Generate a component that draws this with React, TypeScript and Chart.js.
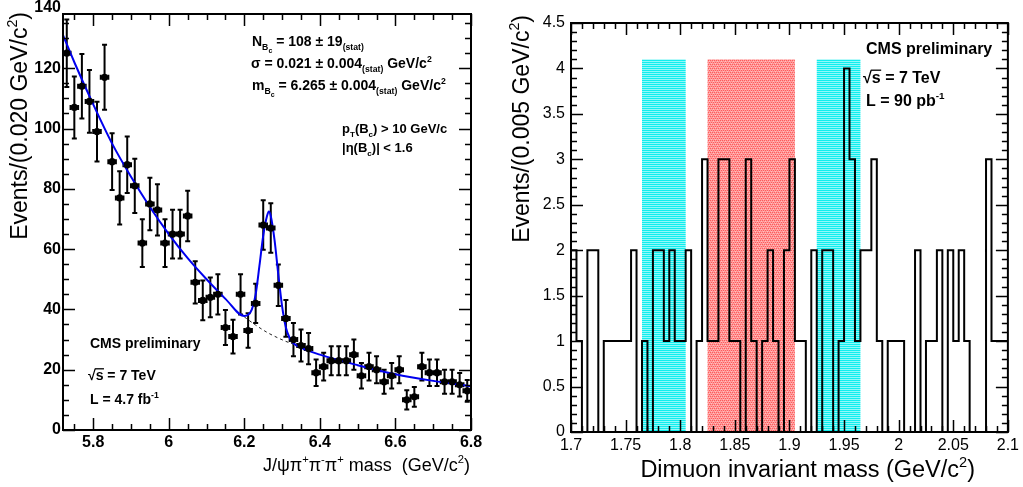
import React, { useEffect, useRef } from 'react';
import { Chart, registerables } from 'chart.js';

Chart.register(...registerables);

const FONT = '"Liberation Sans", Arial, Helvetica, sans-serif';

// ---------------- Left panel: J/psi pi+ pi- pi+ mass ----------------
const massBinCenters = [
  5.73, 5.75, 5.77, 5.79, 5.81, 5.83, 5.85, 5.87, 5.89, 5.91,
  5.93, 5.95, 5.97, 5.99, 6.01, 6.03, 6.05, 6.07, 6.09, 6.11,
  6.13, 6.15, 6.17, 6.19, 6.21, 6.23, 6.25, 6.27, 6.29, 6.31,
  6.33, 6.35, 6.37, 6.39, 6.41, 6.43, 6.45, 6.47, 6.49, 6.51,
  6.53, 6.55, 6.57, 6.59, 6.61, 6.63, 6.65, 6.67, 6.69, 6.71,
  6.73, 6.75, 6.77, 6.79,
];
const candidateCounts = [
  125, 107, 114, 109, 99, 117, 89, 77, 88, 81,
  62, 75, 73, 62, 65, 65, 71, 49, 43, 44,
  45, 34, 31, 45, 33, 42, 68, 67, 48, 37,
  30, 28, 27, 19, 21, 23, 23, 23, 25, 18,
  21, 20, 16, 18, 20, 10, 11, 21, 19, 19,
  16, 16, 15, 13,
];
const countErrors = [
  11.2, 10.3, 10.7, 10.4, 9.9, 10.8, 9.4, 8.8, 9.4, 9.0,
  7.9, 8.7, 8.5, 7.9, 8.1, 8.1, 8.4, 7.0, 6.6, 6.6,
  6.7, 5.8, 5.6, 6.7, 5.7, 6.5, 8.2, 8.2, 6.9, 6.1,
  5.5, 5.3, 5.2, 4.4, 4.6, 4.8, 4.8, 4.8, 5.0, 4.2,
  4.6, 4.5, 4.0, 4.2, 4.5, 3.2, 3.3, 4.6, 4.4, 4.4,
  4.0, 4.0, 3.9, 3.6,
];
const massBinHalfWidth = 0.01;

// total fit (background + signal)
const fitMass = [
  5.72, 5.75, 5.8, 5.85, 5.9, 5.95, 6.0, 6.05, 6.1, 6.15,
  6.2, 6.21, 6.22, 6.23, 6.24, 6.25, 6.26, 6.265, 6.27, 6.28,
  6.29, 6.3, 6.31, 6.32, 6.33, 6.35, 6.4, 6.5, 6.6, 6.7, 6.8,
];
const fitEvents = [
  131, 122, 108, 95, 84, 74, 65, 57, 50, 43.5,
  37.8, 38.2, 40, 45, 54.5, 64.5, 71, 72.5, 71, 63,
  51.5, 41, 34, 30.5, 28.8, 27.3, 25, 21.5, 18.5, 16.3, 14.5,
];
// background only under the peak (dashed)
const bkgMass = [6.2, 6.23, 6.26, 6.29, 6.32, 6.34];
const bkgEvents = [37.5, 34.8, 32.4, 30.5, 28.9, 28.1];

const massTicks = [5.8, 6, 6.2, 6.4, 6.6, 6.8];
const eventTicks = [0, 20, 40, 60, 80, 100, 120, 140];

// ---------------- Right panel: dimuon invariant mass ----------------
const dimuonBinEdges = [
  1.700, 1.705, 1.710, 1.715, 1.720, 1.725, 1.730, 1.735, 1.740, 1.745,
  1.750, 1.755, 1.760, 1.765, 1.770, 1.775, 1.780, 1.785, 1.790, 1.795,
  1.800, 1.805, 1.810, 1.815, 1.820, 1.825, 1.830, 1.835, 1.840, 1.845,
  1.850, 1.855, 1.860, 1.865, 1.870, 1.875, 1.880, 1.885, 1.890, 1.895,
  1.900, 1.905, 1.910, 1.915, 1.920, 1.925, 1.930, 1.935, 1.940, 1.945,
  1.950, 1.955, 1.960, 1.965, 1.970, 1.975, 1.980, 1.985, 1.990, 1.995,
  2.000, 2.005, 2.010, 2.015, 2.020, 2.025, 2.030, 2.035, 2.040, 2.045,
  2.050, 2.055, 2.060, 2.065, 2.070, 2.075, 2.080, 2.085, 2.090, 2.095,
];
const dimuonUpperEdge = 2.1;
const dimuonCounts = [
  0, 2, 1, 0, 2, 2, 0, 1, 1, 1,
  1, 1, 2, 0, 1, 0, 2, 2, 1, 2,
  1, 1, 2, 0, 1, 3, 1, 1, 3, 3,
  1, 1, 0, 3, 1, 0, 1, 2, 1, 0,
  2, 3, 1, 1, 0, 2, 0, 2, 2, 0,
  1, 4, 3, 1, 2, 2, 3, 1, 0, 1,
  1, 1, 0, 0, 2, 0, 1, 1, 2, 0,
  2, 1, 2, 1, 0, 0, 0, 3, 1, 1,
];
const bandStarts = [1.765, 1.825, 1.925];
const bandEnds = [1.805, 1.905, 1.965];
const bandKinds = ['sideband', 'signal', 'sideband'];
const bandHeight = 4.1;

const dimuonTicks = [1.7, 1.75, 1.8, 1.85, 1.9, 1.95, 2.0, 2.05, 2.1];
const dimuonEventTicks = [0, 0.5, 1, 1.5, 2, 2.5, 3, 3.5, 4, 4.5];

// ---------------- text helpers ----------------
type Kind = 'n' | 's' | 'ss' | 'p';
type Seg = [string, Kind];

function segFont(kind: Kind, size: number, weight: string) {
  const f = kind === 'n' ? 1 : kind === 'ss' ? 0.5 : 0.62;
  return `${weight} ${(size * f).toFixed(1)}px ${FONT}`;
}
function segDy(kind: Kind, size: number) {
  if (kind === 's') return 0.3 * size;
  if (kind === 'ss') return 0.5 * size;
  if (kind === 'p') return -0.42 * size;
  return 0;
}
function richWidth(ctx: CanvasRenderingContext2D, segs: Seg[], size: number, weight: string) {
  let w = 0;
  for (const [t, k] of segs) {
    ctx.font = segFont(k, size, weight);
    w += ctx.measureText(t).width;
  }
  return w;
}
function drawRich(ctx: CanvasRenderingContext2D, x: number, y: number, segs: Seg[], size: number, weight: string, align: 'left' | 'right' = 'left') {
  let cx = align === 'right' ? x - richWidth(ctx, segs, size, weight) : x;
  ctx.textBaseline = 'alphabetic';
  ctx.textAlign = 'left';
  ctx.fillStyle = '#000';
  for (const [t, k] of segs) {
    ctx.font = segFont(k, size, weight);
    ctx.fillText(t, cx, y + segDy(k, size));
    cx += ctx.measureText(t).width;
  }
}
function drawSqrtS(ctx: CanvasRenderingContext2D, x: number, y: number, size: number, rest: string) {
  ctx.font = `bold ${size}px ${FONT}`;
  ctx.textBaseline = 'alphabetic';
  ctx.textAlign = 'left';
  ctx.fillStyle = '#000';
  const w0 = ctx.measureText('√').width;
  const ws = ctx.measureText('s').width;
  ctx.fillText('√', x, y);
  ctx.fillText('s' + rest, x + w0, y);
  ctx.strokeStyle = '#000';
  ctx.lineWidth = 1.3;
  ctx.beginPath();
  ctx.moveTo(x + w0 - 1, y - size * 0.8);
  ctx.lineTo(x + w0 + ws + 0.5, y - size * 0.8);
  ctx.stroke();
}
function drawVerticalTitle(ctx: CanvasRenderingContext2D, baselineX: number, topY: number, segs: Seg[], size: number) {
  ctx.save();
  ctx.translate(baselineX, topY);
  ctx.rotate(-Math.PI / 2);
  drawRich(ctx, 0, 0, segs, size, 'normal', 'right');
  ctx.restore();
}
const fmt = (v: number) => String(Math.round(v * 100) / 100);

// ---------------- plugins ----------------
type TickSpec = { value: number; major: boolean };
function framePlugin(xt: TickSpec[], yt: TickSpec[], majorLen: number, minorLen: number) {
  return {
    id: 'rootFrame',
    afterDraw(chart: any) {
      const { ctx, chartArea: a, scales } = chart;
      const x = scales.x;
      const y = scales.y;
      ctx.save();
      ctx.strokeStyle = '#000';
      ctx.lineWidth = 1.5;
      ctx.beginPath();
      for (const t of xt) {
        const px = Math.round(x.getPixelForValue(t.value)) + 0.5;
        const len = t.major ? majorLen : minorLen;
        ctx.moveTo(px, a.bottom); ctx.lineTo(px, a.bottom - len);
        ctx.moveTo(px, a.top); ctx.lineTo(px, a.top + len);
      }
      for (const t of yt) {
        const py = Math.round(y.getPixelForValue(t.value)) + 0.5;
        const len = t.major ? majorLen : minorLen;
        ctx.moveTo(a.left, py); ctx.lineTo(a.left + len, py);
        ctx.moveTo(a.right, py); ctx.lineTo(a.right - len, py);
      }
      ctx.stroke();
      ctx.lineWidth = 2;
      ctx.strokeRect(a.left, a.top, a.right - a.left, a.bottom - a.top);
      ctx.restore();
    },
  };
}

const errorBarPlugin = {
  id: 'errorBars',
  beforeDatasetsDraw(chart: any) {
    const { ctx, scales } = chart;
    const x = scales.x;
    const y = scales.y;
    ctx.save();
    ctx.strokeStyle = '#000';
    ctx.lineWidth = 2;
    ctx.beginPath();
    massBinCenters.forEach((m, i) => {
      const px = x.getPixelForValue(m);
      const py = y.getPixelForValue(candidateCounts[i]);
      const top = y.getPixelForValue(candidateCounts[i] + countErrors[i]);
      const bot = y.getPixelForValue(candidateCounts[i] - countErrors[i]);
      const xl = x.getPixelForValue(m - massBinHalfWidth);
      const xr = x.getPixelForValue(m + massBinHalfWidth);
      ctx.moveTo(px, top); ctx.lineTo(px, bot);
      ctx.moveTo(px - 2.5, top); ctx.lineTo(px + 2.5, top);
      ctx.moveTo(px - 2.5, bot); ctx.lineTo(px + 2.5, bot);
      ctx.moveTo(xl, py); ctx.lineTo(xr, py);
      ctx.moveTo(xl, py - 2.5); ctx.lineTo(xl, py + 2.5);
      ctx.moveTo(xr, py - 2.5); ctx.lineTo(xr, py + 2.5);
    });
    ctx.stroke();
    ctx.restore();
  },
};

function makePattern(ctx: CanvasRenderingContext2D, kind: string) {
  const c = document.createElement('canvas');
  c.width = 4; c.height = 4;
  const g = c.getContext('2d')!;
  if (kind === 'signal') {
    g.fillStyle = '#ff9c9c'; g.fillRect(0, 0, 4, 4);
    g.fillStyle = '#ff5a5a';
    g.fillRect(0, 0, 1, 1); g.fillRect(2, 0, 1, 1); g.fillRect(1, 2, 1, 1); g.fillRect(3, 2, 1, 1);
    g.fillStyle = '#ffc0c0';
    g.fillRect(1, 1, 1, 1); g.fillRect(3, 3, 1, 1);
  } else {
    g.fillStyle = '#10eeee'; g.fillRect(0, 0, 4, 4);
    g.fillStyle = '#90f8f8'; g.fillRect(0, 1, 4, 1); g.fillRect(0, 3, 4, 1);
  }
  return ctx.createPattern(c, 'repeat');
}

const bandPlugin = {
  id: 'massBands',
  beforeDatasetsDraw(chart: any) {
    const { ctx, scales } = chart;
    const x = scales.x;
    const y = scales.y;
    ctx.save();
    bandStarts.forEach((lo, i) => {
      const x0 = x.getPixelForValue(lo);
      const x1 = x.getPixelForValue(bandEnds[i]);
      const y0 = y.getPixelForValue(bandHeight);
      const y1 = y.getPixelForValue(0);
      ctx.fillStyle = makePattern(ctx, bandKinds[i]) as any;
      ctx.fillRect(x0, y0, x1 - x0, y1 - y0);
    });
    ctx.restore();
  },
};

const leftTextPlugin = {
  id: 'leftText',
  afterDraw(chart: any) {
    const ctx: CanvasRenderingContext2D = chart.ctx;
    ctx.save();
    drawRich(ctx, 252, 46, [['N', 'n'], ['B', 's'], ['c', 'ss'], [' = 108 ± 19', 'n'], ['(stat)', 's']], 14, 'bold');
    drawRich(ctx, 251, 68, [['σ = 0.021 ± 0.004', 'n'], ['(stat)', 's'], [' GeV/c', 'n'], ['2', 'p']], 14, 'bold');
    drawRich(ctx, 252, 90, [['m', 'n'], ['B', 's'], ['c', 'ss'], [' = 6.265 ± 0.004', 'n'], ['(stat)', 's'], [' GeV/c', 'n'], ['2', 'p']], 14, 'bold');
    drawRich(ctx, 342, 133, [['p', 'n'], ['T', 's'], ['(B', 'n'], ['c', 's'], [') > 10 GeV/c', 'n']], 13, 'bold');
    drawRich(ctx, 342, 152, [['|η(B', 'n'], ['c', 's'], [')| < 1.6', 'n']], 13, 'bold');
    drawRich(ctx, 90, 348, [['CMS preliminary', 'n']], 14, 'bold');
    drawSqrtS(ctx, 88, 380, 14, ' = 7 TeV');
    drawRich(ctx, 90, 404, [['L = 4.7 fb', 'n'], ['-1', 'p']], 14, 'bold');
    // axis titles
    drawVerticalTitle(ctx, 27, 12, [['Events/(0.020 GeV/c', 'n'], ['2', 'p'], [')', 'n']], 23);
    drawRich(ctx, 470, 471, [['J/ψπ', 'n'], ['+', 'p'], ['π', 'n'], ['-', 'p'], ['π', 'n'], ['+', 'p'], [' mass  (GeV/c', 'n'], ['2', 'p'], [')', 'n']], 18, 'normal', 'right');
    ctx.restore();
  },
};

const rightTextPlugin = {
  id: 'rightText',
  afterDraw(chart: any) {
    const ctx: CanvasRenderingContext2D = chart.ctx;
    ctx.save();
    drawRich(ctx, 366, 54, [['CMS preliminary', 'n']], 16, 'bold');
    drawSqrtS(ctx, 363, 83, 16, ' = 7 TeV');
    drawRich(ctx, 366, 106, [['L = 90 pb', 'n'], ['-1', 'p']], 16, 'bold');
    drawVerticalTitle(ctx, 29, 15, [['Events/(0.005 GeV/c', 'n'], ['2', 'p'], [')', 'n']], 23);
    drawRich(ctx, 475, 477, [['Dimuon invariant mass (GeV/c', 'n'], ['2', 'p'], [')', 'n']], 23.5, 'normal', 'right');
    ctx.restore();
  },
};

// tick mark specs (axis decoration only)
const leftXTicks: TickSpec[] = [];
for (let i = 115; i <= 136; i++) leftXTicks.push({ value: i * 0.05, major: i % 4 === 0 });
const leftYTicks: TickSpec[] = [];
for (let i = 0; i <= 27; i++) leftYTicks.push({ value: i * 5, major: i % 4 === 0 });
const rightXTicks: TickSpec[] = [];
for (let i = 170; i <= 210; i++) rightXTicks.push({ value: i / 100, major: i % 5 === 0 });
const rightYTicks: TickSpec[] = [];
for (let i = 0; i <= 45; i++) rightYTicks.push({ value: i / 10, major: i % 5 === 0 });

function leftConfig(): any {
  return {
    type: 'scatter',
    data: {
      datasets: [
        {
          type: 'scatter',
          data: massBinCenters.map((m, i) => ({ x: m, y: candidateCounts[i] })),
          pointRadius: 3.6,
          pointHoverRadius: 3.6,
          pointBackgroundColor: '#000',
          pointBorderWidth: 0,
        },
        {
          type: 'line',
          data: fitMass.map((m, i) => ({ x: m, y: fitEvents[i] })),
          borderColor: '#0000ee',
          borderWidth: 2,
          pointRadius: 0,
          cubicInterpolationMode: 'monotone',
          fill: false,
        },
        {
          type: 'line',
          data: bkgMass.map((m, i) => ({ x: m, y: bkgEvents[i] })),
          borderColor: '#222',
          borderWidth: 1,
          borderDash: [3, 3],
          pointRadius: 0,
          cubicInterpolationMode: 'monotone',
          fill: false,
        },
      ],
    },
    options: {
      responsive: false,
      animation: false,
      events: [],
      layout: { padding: { left: 0, right: 29, top: 14, bottom: 0 } },
      plugins: { legend: { display: false }, tooltip: { enabled: false } },
      scales: {
        x: {
          type: 'linear', min: 5.72, max: 6.8,
          grid: { display: false, drawTicks: false }, border: { display: false },
          afterBuildTicks: (s: any) => { s.ticks = massTicks.map((v) => ({ value: v })); },
          afterFit: (s: any) => { s.height = 57; },
          ticks: { color: '#000', autoSkip: false, maxRotation: 0, padding: 3, font: { family: FONT, size: 16, weight: 'bold' }, callback: (v: number) => fmt(v) },
        },
        y: {
          type: 'linear', min: 0, max: 138,
          grid: { display: false, drawTicks: false }, border: { display: false },
          afterBuildTicks: (s: any) => { s.ticks = eventTicks.map((v) => ({ value: v })); },
          afterFit: (s: any) => { s.width = 63; },
          ticks: { color: '#000', autoSkip: false, padding: 2, font: { family: FONT, size: 16, weight: 'bold' }, callback: (v: number) => fmt(v) },
        },
      },
    },
    plugins: [errorBarPlugin, framePlugin(leftXTicks, leftYTicks, 12, 6), leftTextPlugin],
  };
}

function rightConfig(): any {
  const pts = dimuonBinEdges.map((e, i) => ({ x: e, y: dimuonCounts[i] }));
  pts.push({ x: dimuonUpperEdge, y: dimuonCounts[dimuonCounts.length - 1] });
  return {
    type: 'line',
    data: {
      datasets: [
        {
          data: pts,
          borderColor: '#000',
          borderWidth: 2,
          pointRadius: 0,
          stepped: 'after',
          fill: false,
        },
      ],
    },
    options: {
      responsive: false,
      animation: false,
      events: [],
      layout: { padding: { left: 0, right: 15, top: 23, bottom: 0 } },
      plugins: { legend: { display: false }, tooltip: { enabled: false } },
      scales: {
        x: {
          type: 'linear', min: 1.7, max: 2.1,
          grid: { display: false, drawTicks: false }, border: { display: false },
          afterBuildTicks: (s: any) => { s.ticks = dimuonTicks.map((v) => ({ value: v })); },
          afterFit: (s: any) => { s.height = 55; },
          ticks: { color: '#000', autoSkip: false, maxRotation: 0, padding: 4, font: { family: FONT, size: 16 }, callback: (v: number) => fmt(v) },
        },
        y: {
          type: 'linear', min: 0, max: 4.5,
          grid: { display: false, drawTicks: false }, border: { display: false },
          afterBuildTicks: (s: any) => { s.ticks = dimuonEventTicks.map((v) => ({ value: v })); },
          afterFit: (s: any) => { s.width = 71; },
          ticks: { color: '#000', autoSkip: false, padding: 6, font: { family: FONT, size: 16 }, callback: (v: number) => fmt(v) },
        },
      },
    },
    plugins: [bandPlugin, framePlugin(rightXTicks, rightYTicks, 12, 6), rightTextPlugin],
  };
}

export default function App() {
  const leftRef = useRef<HTMLCanvasElement>(null);
  const rightRef = useRef<HTMLCanvasElement>(null);
  useEffect(() => {
    const left = new Chart(leftRef.current as HTMLCanvasElement, leftConfig());
    const right = new Chart(rightRef.current as HTMLCanvasElement, rightConfig());
    return () => {
      left.destroy();
      right.destroy();
    };
  }, []);
  return (
    <div style={{ position: 'absolute', left: 0, top: 0, width: 1023, height: 487, background: '#fff', overflow: 'hidden' }}>
      <canvas ref={leftRef} width={500} height={487} style={{ position: 'absolute', left: 0, top: 0 }} />
      <canvas ref={rightRef} width={523} height={487} style={{ position: 'absolute', left: 500, top: 0 }} />
    </div>
  );
}
